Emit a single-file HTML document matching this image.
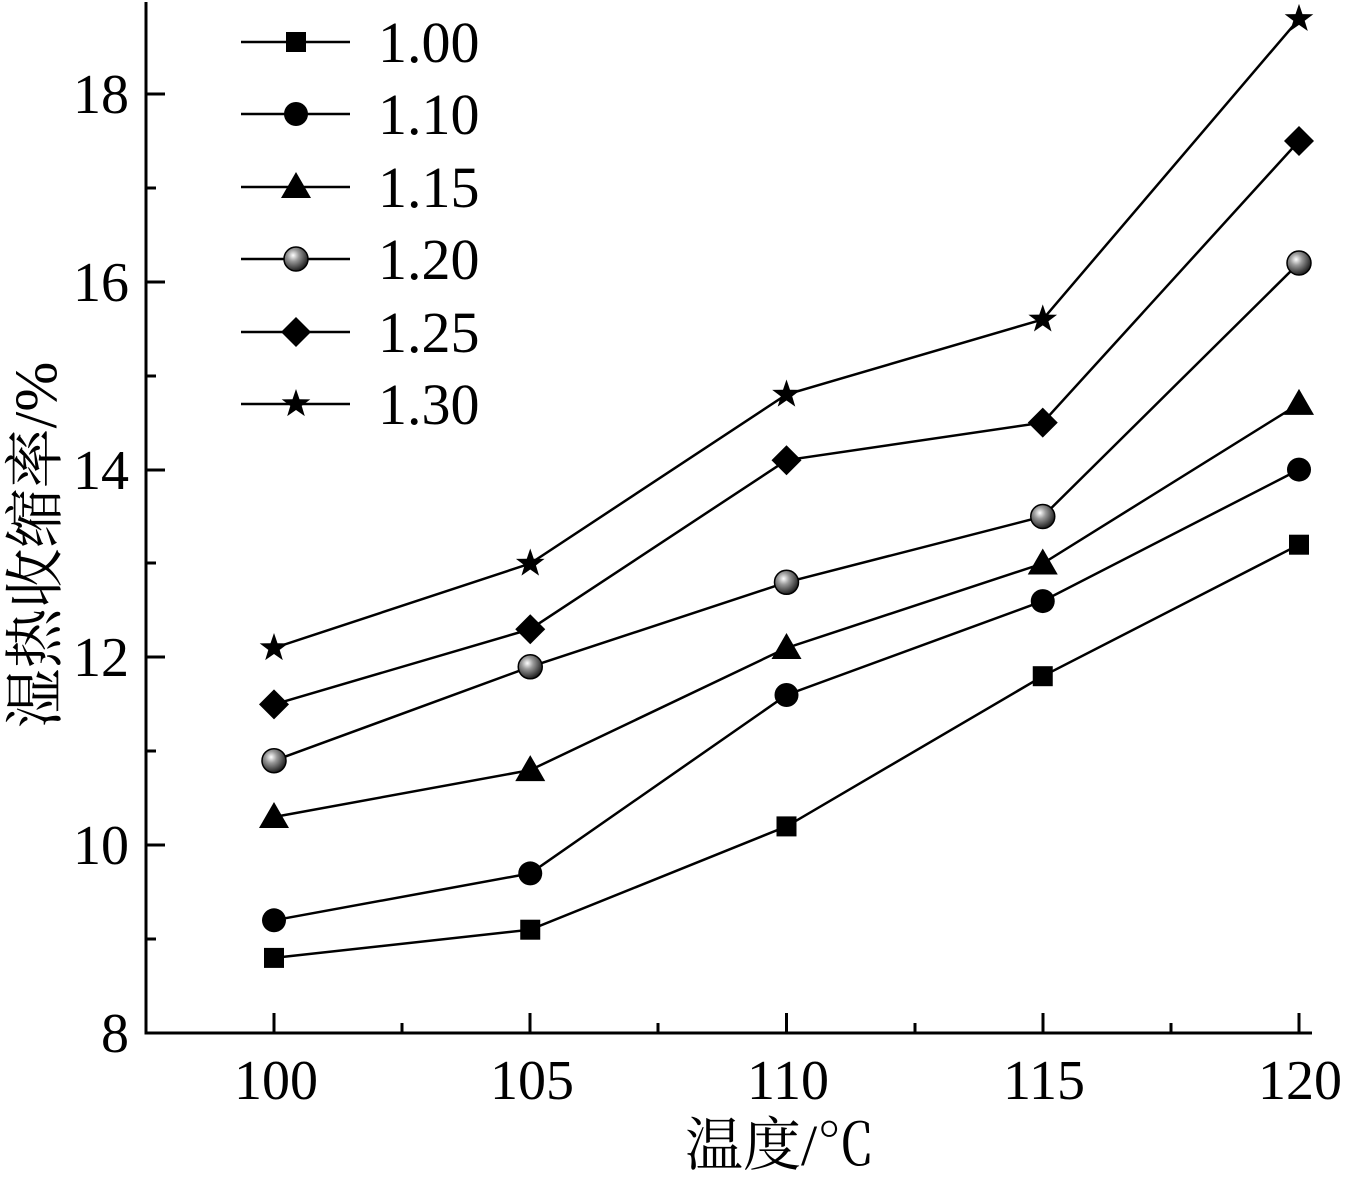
<!DOCTYPE html>
<html><head><meta charset="utf-8"><style>
html,body{margin:0;padding:0;background:#fff}
svg{display:block}
text{font-family:"Liberation Serif","Noto Serif CJK SC",serif;fill:#000}
</style></head><body>
<svg width="1346" height="1184" viewBox="0 0 1346 1184" xmlns="http://www.w3.org/2000/svg">
<defs>
<radialGradient id="sph" cx="0.38" cy="0.35" r="0.7">
<stop offset="0" stop-color="#fff"/><stop offset="0.35" stop-color="#999"/><stop offset="1" stop-color="#111"/>
</radialGradient>
<rect id="sq" x="-10" y="-10" width="20" height="20" fill="#000"/>
<circle id="ci" r="12" fill="#000"/>
<polygon id="tr" points="0,-15 15,11 -15,11" fill="#000"/>
<circle id="sp" r="12" fill="url(#sph)" stroke="#000" stroke-width="1.5"/>
<polygon id="di" points="0,-15 15,0 0,15 -15,0" fill="#000"/>
<polygon id="st" points="0,-15 3.5,-4.8 14.3,-4.6 5.7,1.9 8.8,12.1 0,6 -8.8,12.1 -5.7,1.9 -14.3,-4.6 -3.5,-4.8" fill="#000"/>
</defs>
<g stroke="#000" stroke-width="3" fill="none">
<polyline points="146,2 146,1033 1312,1033"/>
</g>
<g stroke="#000" stroke-width="3">
<line x1="146" y1="845" x2="165" y2="845"/><line x1="146" y1="657" x2="165" y2="657"/>
<line x1="146" y1="470" x2="165" y2="470"/><line x1="146" y1="282" x2="165" y2="282"/>
<line x1="146" y1="94" x2="165" y2="94"/>
<line x1="146" y1="939" x2="156" y2="939"/><line x1="146" y1="751" x2="156" y2="751"/>
<line x1="146" y1="563" x2="156" y2="563"/><line x1="146" y1="376" x2="156" y2="376"/>
<line x1="146" y1="188" x2="156" y2="188"/>
<line x1="274" y1="1033" x2="274" y2="1013"/><line x1="530" y1="1033" x2="530" y2="1013"/>
<line x1="786.5" y1="1033" x2="786.5" y2="1013"/><line x1="1043" y1="1033" x2="1043" y2="1013"/>
<line x1="1299" y1="1033" x2="1299" y2="1013"/>
<line x1="402" y1="1033" x2="402" y2="1023"/><line x1="658" y1="1033" x2="658" y2="1023"/>
<line x1="915" y1="1033" x2="915" y2="1023"/><line x1="1171" y1="1033" x2="1171" y2="1023"/>
</g>
<g font-size="56" text-anchor="end">
<text x="129" y="1052">8</text><text x="129" y="864">10</text><text x="129" y="676">12</text>
<text x="129" y="489">14</text><text x="129" y="301">16</text><text x="129" y="113">18</text>
</g>
<g font-size="56" text-anchor="middle">
<text x="276" y="1099">100</text><text x="532" y="1099">105</text><text x="788" y="1099">110</text>
<text x="1044" y="1099">115</text><text x="1300" y="1099">120</text>
</g>
<text x="780" y="1165" font-size="58" text-anchor="middle">温度/℃</text>
<text transform="translate(56,545) rotate(-90)" font-size="60" text-anchor="middle">湿热收缩率/%</text>
<g stroke="#000" stroke-width="2.5" fill="none">
<polyline points="274,957.9 530.25,929.7 786.5,826.4 1042.75,676.2 1299,544.7"/>
<polyline points="274,920.3 530.25,873.4 786.5,695 1042.75,601.1 1299,469.6"/>
<polyline points="274,817 530.25,770.1 786.5,648 1042.75,563.5 1299,403.9"/>
<polyline points="274,760.7 530.25,666.8 786.5,582.3 1042.75,516.5 1299,263"/>
<polyline points="274,704.4 530.25,629.2 786.5,460.2 1042.75,422.6 1299,141"/>
<polyline points="274,648 530.25,563.5 786.5,394.5 1042.75,319.4 1299,18.9"/>
<line x1="241" y1="42" x2="350" y2="42"/><line x1="241" y1="114" x2="350" y2="114"/>
<line x1="241" y1="187" x2="350" y2="187"/><line x1="241" y1="259" x2="350" y2="259"/>
<line x1="241" y1="332" x2="350" y2="332"/><line x1="241" y1="404" x2="350" y2="404"/>
</g>
<g>
<use href="#sq" x="274" y="957.9"/><use href="#sq" x="530.25" y="929.7"/><use href="#sq" x="786.5" y="826.4"/><use href="#sq" x="1042.75" y="676.2"/><use href="#sq" x="1299" y="544.7"/>
<use href="#ci" x="274" y="920.3"/><use href="#ci" x="530.25" y="873.4"/><use href="#ci" x="786.5" y="695"/><use href="#ci" x="1042.75" y="601.1"/><use href="#ci" x="1299" y="469.6"/>
<use href="#tr" x="274" y="817"/><use href="#tr" x="530.25" y="770.1"/><use href="#tr" x="786.5" y="648"/><use href="#tr" x="1042.75" y="563.5"/><use href="#tr" x="1299" y="403.9"/>
<use href="#sp" x="274" y="760.7"/><use href="#sp" x="530.25" y="666.8"/><use href="#sp" x="786.5" y="582.3"/><use href="#sp" x="1042.75" y="516.5"/><use href="#sp" x="1299" y="263"/>
<use href="#di" x="274" y="704.4"/><use href="#di" x="530.25" y="629.2"/><use href="#di" x="786.5" y="460.2"/><use href="#di" x="1042.75" y="422.6"/><use href="#di" x="1299" y="141"/>
<use href="#st" x="274" y="648"/><use href="#st" x="530.25" y="563.5"/><use href="#st" x="786.5" y="394.5"/><use href="#st" x="1042.75" y="319.4"/><use href="#st" x="1299" y="18.9"/>
<use href="#sq" x="296" y="42"/><use href="#ci" x="296" y="114"/><use href="#tr" x="296" y="187"/>
<use href="#sp" x="296" y="259"/><use href="#di" x="296" y="332"/><use href="#st" x="296" y="404"/>
</g>
<g font-size="58">
<text x="378" y="62">1.00</text><text x="378" y="134">1.10</text><text x="378" y="207">1.15</text>
<text x="378" y="279">1.20</text><text x="378" y="352">1.25</text><text x="378" y="424">1.30</text>
</g>
</svg>
</body></html>
